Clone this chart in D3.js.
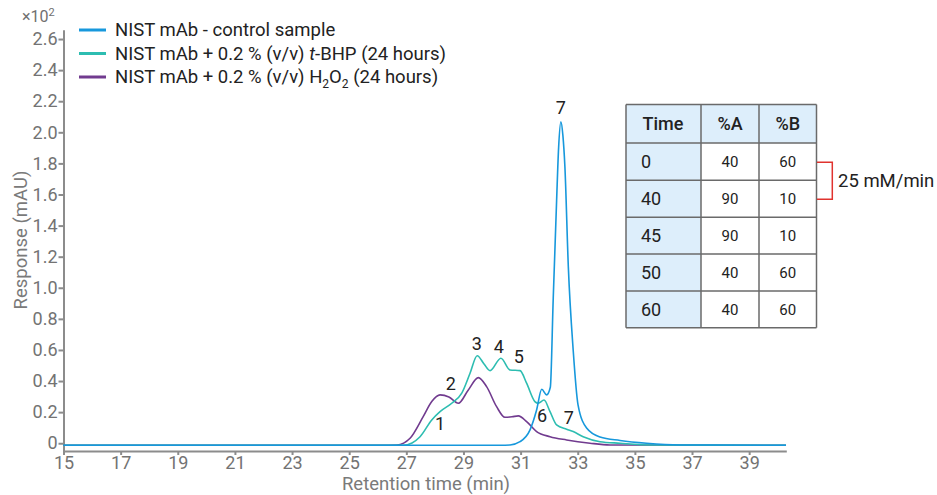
<!DOCTYPE html>
<html lang="en">
<meta charset="utf-8">
<head>
    <script src='https://d3js.org/d3.v7.min.js'></script>
</head>
<body style="margin:0;background:#fff">
</body>

<style>
	svg text {
	font-family: Roboto, "Open Sans", sans-serif;
	}
	.tick line, .domain {
	stroke: #8c8c8c;
	stroke-width: 2px;
	}
</style>

<script>
// chromatogram traces: [retention time (min), response x10^2 mAU]
var control = [
	[15, -0.013], [30.28, -0.013], [30.63, -0.011], [30.98, 0.010], [31.33, 0.086],
	[31.56, 0.214], [31.74, 0.347], [31.91, 0.311], [32.04, 0.36], [32.14, 0.92],
	[32.26, 1.56], [32.33, 1.90], [32.41, 2.068], [32.48, 1.98], [32.55, 1.78],
	[32.67, 1.136], [32.84, 0.60], [33.01, 0.247], [33.31, 0.098], [33.78, 0.04],
	[34.48, 0.018], [35.41, 0.0], [36.58, -0.011], [40.29, -0.013]
];
var tbhp = [
	[15, -0.013], [26.88, -0.013], [27.2, 0.002], [27.48, 0.042], [27.89, 0.150],
	[28.18, 0.203], [28.59, 0.257], [28.94, 0.322], [29.23, 0.450], [29.48, 0.563],
	[29.72, 0.51], [29.93, 0.467], [30.31, 0.547], [30.63, 0.471], [30.98, 0.467],
	[31.21, 0.386], [31.50, 0.268], [31.62, 0.257], [31.82, 0.278], [32.03, 0.203],
	[32.26, 0.118], [32.61, 0.09], [32.84, 0.075], [33.19, 0.042], [33.78, 0.010],
	[34.48, 0.0], [35.53, -0.011], [40.29, -0.013]
];
var h2o2 = [
	[15, -0.013], [26.08, -0.013], [26.67, -0.011], [27.13, 0.032], [27.59, 0.171],
	[27.89, 0.268], [28.18, 0.311], [28.49, 0.298], [28.82, 0.257], [29.17, 0.343],
	[29.52, 0.422], [29.81, 0.364], [30.16, 0.235], [30.45, 0.167], [30.70, 0.170],
	[30.92, 0.176], [31.21, 0.139], [31.56, 0.075], [32.03, 0.042], [32.61, 0.021],
	[33.43, 0.0], [34.13, -0.011], [40.29, -0.013]
];
var seriesNames = ["NIST mAb - control sample", "NIST mAb + 0.2 % (v/v) ", "NIST mAb + 0.2 % (v/v) H"];
var seriesColors = ["#1798dc", "#2dbdb1", "#713b8f"];

// peak numbers
var peakLabels = ["7", "3", "4", "5", "2", "1", "6", "7"];
var peakT = [32.41, 29.47, 30.24, 30.94, 28.56, 28.18, 31.75, 32.69];
var peakV = [2.156, 0.639, 0.619, 0.555, 0.381, 0.124, 0.176, 0.163];

var xTicks = [15, 17, 19, 21, 23, 25, 27, 29, 31, 33, 35, 37, 39];
var yTicks = [0, 0.2, 0.4, 0.6, 0.8, 1.0, 1.2, 1.4, 1.6, 1.8, 2.0, 2.2, 2.4, 2.6];

// gradient table
var tableHead = ["Time", "%A", "%B"];
var tableTime = ["0", "40", "45", "50", "60"];
var tablePctA = ["40", "90", "90", "40", "40"];
var tablePctB = ["60", "10", "10", "60", "60"];

var width = 937, height = 495;
var svg = d3.select("body").append("svg")
	.attr("width", width)
	.attr("height", height);

var x = d3.scaleLinear().domain([15, 40.3]).range([63.5, 786.3]);
var y = d3.scaleLinear().domain([-0.05, 2.66]).range([451, 29.7]);

var yAxis = svg.append("g")
	.attr("transform", "translate(63.5,0)")
	.call(d3.axisLeft(y).tickValues(yTicks).tickSize(5).tickSizeOuter(0)
		.tickFormat(function(d) { return d === 0 ? "0" : d.toFixed(1); }));
yAxis.selectAll(".tick text").attr("x", -6);

var xAxis = svg.append("g")
	.attr("transform", "translate(0,451)")
	.call(d3.axisBottom(x).tickValues(xTicks).tickSize(4).tickSizeOuter(0));
xAxis.selectAll(".tick text").attr("y", 5);

svg.selectAll(".tick text")
	.style("font-size", "18px")
	.style("fill", "#737373");

svg.append("text")
	.attr("x", 22).attr("y", 22)
	.attr("fill", "#707070").style("font-size", "16px")
	.html("×10<tspan dy='-6' font-size='11px'>2</tspan>");

svg.append("text")
	.attr("transform", "translate(27,240) rotate(-90)")
	.attr("text-anchor", "middle")
	.attr("fill", "#7a7a7a").style("font-size", "18.5px")
	.text("Response (mAU)");

svg.append("text")
	.attr("x", 426).attr("y", 490)
	.attr("text-anchor", "middle")
	.attr("fill", "#7a7a7a").style("font-size", "18.5px")
	.text("Retention time (min)");

var line = d3.line()
	.x(function(d) { return x(d[0]); })
	.y(function(d) { return y(d[1]); })
	.curve(d3.curveMonotoneX);

[h2o2, tbhp, control].forEach(function(s, i) {
	svg.append("path")
		.datum(s)
		.attr("fill", "none")
		.attr("stroke", seriesColors[2 - i])
		.attr("stroke-width", 1.6)
		.attr("d", line);
});

svg.selectAll(".peak")
	.data(peakLabels)
	.enter()
	.append("text")
	.attr("x", function(d, i) { return x(peakT[i]); })
	.attr("y", function(d, i) { return y(peakV[i]); })
	.attr("dy", ".35em")
	.attr("text-anchor", "middle")
	.attr("fill", "#222")
	.style("font-size", "18px")
	.text(function(d) { return d; });

// legend
var legend = svg.selectAll(".legend")
	.data(seriesNames)
	.enter()
	.append("g")
	.attr("transform", function(d, i) { return "translate(79," + (30 + i * 23.5) + ")"; });
legend.append("line")
	.attr("x1", 0).attr("x2", 27)
	.attr("stroke", function(d, i) { return seriesColors[i]; })
	.attr("stroke-width", 3);
var lt = legend.append("text")
	.attr("x", 36).attr("dy", ".35em")
	.attr("fill", "#222")
	.style("font-size", "18.5px");
lt.each(function(d, i) {
	var t = d3.select(this);
	if (i === 0) { t.text(d); }
	if (i === 1) {
		t.append("tspan").text(d);
		t.append("tspan").attr("font-style", "italic").text("t");
		t.append("tspan").text("-BHP (24 hours)");
	}
	if (i === 2) {
		t.append("tspan").text(d);
		t.append("tspan").attr("dy", 5).attr("font-size", "12px").text("2");
		t.append("tspan").attr("dy", -5).text("O");
		t.append("tspan").attr("dy", 5).attr("font-size", "12px").text("2");
		t.append("tspan").attr("dy", -5).text(" (24 hours)");
	}
});

// table
var colX = [626, 701, 759, 816.5];
var rowY = [104.5, 143, 180.3, 217.3, 254, 291, 327.7];
var table = svg.append("g");
table.append("rect")
	.attr("x", colX[0]).attr("y", rowY[0])
	.attr("width", colX[3] - colX[0]).attr("height", rowY[1] - rowY[0])
	.attr("fill", "#ddeefb");
table.append("rect")
	.attr("x", colX[0]).attr("y", rowY[1])
	.attr("width", colX[1] - colX[0]).attr("height", rowY[6] - rowY[1])
	.attr("fill", "#ddeefb");
rowY.forEach(function(r) {
	table.append("line")
		.attr("x1", colX[0]).attr("x2", colX[3])
		.attr("y1", r).attr("y2", r)
		.attr("stroke", "#6a6a6a").attr("stroke-width", 1.5);
});
colX.forEach(function(c) {
	table.append("line")
		.attr("x1", c).attr("x2", c)
		.attr("y1", rowY[0]).attr("y2", rowY[6])
		.attr("stroke", "#6a6a6a").attr("stroke-width", 1.5);
});
tableHead.forEach(function(h, i) {
	table.append("text")
		.attr("x", i === 0 ? 663 : (colX[i] + colX[i + 1]) / 2)
		.attr("y", (rowY[0] + rowY[1]) / 2).attr("dy", ".35em")
		.attr("text-anchor", "middle")
		.attr("fill", "#222").style("font-size", "18px").style("font-weight", 500)
		.text(h);
});
[tableTime, tablePctA, tablePctB].forEach(function(col, j) {
	col.forEach(function(v, i) {
		table.append("text")
			.attr("x", j === 0 ? 641 : (colX[j] + colX[j + 1]) / 2)
			.attr("y", (rowY[i + 1] + rowY[i + 2]) / 2).attr("dy", ".35em")
			.attr("text-anchor", j === 0 ? "start" : "middle")
			.attr("fill", "#222")
			.style("font-size", j === 0 ? "18px" : "15px")
			.text(v);
	});
});

// gradient bracket
svg.append("path")
	.attr("d", "M817,162.3H832.3V199.3H817")
	.attr("fill", "none")
	.attr("stroke", "#e0332e")
	.attr("stroke-width", 1.5);
svg.append("text")
	.attr("x", 838).attr("y", 181).attr("dy", ".35em")
	.attr("fill", "#222").style("font-size", "18.5px")
	.text("25 mM/min");
</script>
</html>
